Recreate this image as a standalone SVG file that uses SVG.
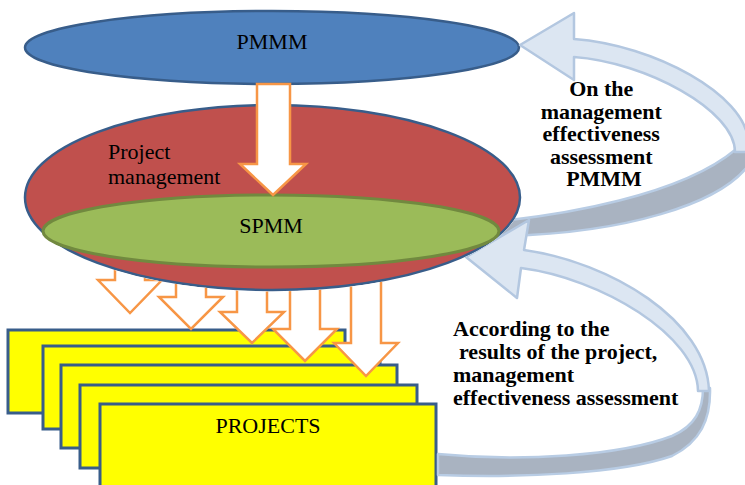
<svg xmlns="http://www.w3.org/2000/svg" width="745" height="485" viewBox="0 0 745 485">
<style>
.lbl{font-family:"Liberation Serif","Times New Roman",serif;font-size:22px;fill:#000}
.bold{font-family:"Liberation Serif","Times New Roman",serif;font-size:22px;font-weight:bold;fill:#000}
.proj{fill:#FFFF00;stroke:#385D8A;stroke-width:3}
.oarrow{fill:#FFFFFF;stroke:#F79646;stroke-width:2.5;stroke-linejoin:miter}
.front{fill:#DCE6F2;stroke:#B3C7E0;stroke-width:2.5;stroke-linejoin:round}
.back{fill:#A9B3C1;stroke:#B8CCE4;stroke-width:2.5;stroke-linejoin:round}
</style>
<defs>
<clipPath id="outsideRed">
<path clip-rule="evenodd" d="M-10,-10H760V500H-10Z M23.5,197.5a249,94 0 1,0 498,0a249,94 0 1,0 -498,0Z"/>
</clipPath>
</defs>
<rect width="745" height="485" fill="#FFFFFF"/>

<g id="projects">
<rect class="proj" x="8" y="330" width="337" height="83"/>
<rect class="proj" x="43" y="346" width="337" height="83"/>
<rect class="proj" x="61" y="365" width="336" height="83"/>
<rect class="proj" x="80" y="385" width="337" height="83"/>
<rect class="proj" x="100" y="404" width="336" height="86"/>
<text class="lbl" x="268" y="433" text-anchor="middle">PROJECTS</text>
</g>

<g id="project-management">
<ellipse cx="272.5" cy="197.5" rx="247.5" ry="92.5" fill="#C0504D" stroke="#385D8A" stroke-width="2.5"/>
<text class="lbl" x="108" y="159">Project</text>
<text class="lbl" x="108" y="184">management</text>
</g>

<g id="spmm">
<ellipse cx="271" cy="231" rx="228" ry="36" fill="#9BBB59" stroke="#71893F" stroke-width="3"/>
<text class="lbl" x="271" y="233" text-anchor="middle">SPMM</text>
</g>

<g id="pmmm">
<ellipse cx="272" cy="47.5" rx="247" ry="36.5" fill="#4F81BD" stroke="#385D8A" stroke-width="2.5"/>
<text class="lbl" x="272" y="49" text-anchor="middle">PMMM</text>
</g>

<g id="connectors">
<g clip-path="url(#outsideRed)">
<g id="feedback-pmmm">
<path class="back" d="M500,221 C560,215 680,196 735,150 L752,140 L752,160 C725,205 620,234 500,236 Z"/>
<path class="front" d="M574,13 L520,45 L574,80 L574,57 C645,62 735,110 735,152 L752,152 L748,140 C745,95 655,45 574,39 Z"/>
</g>
<g id="feedback-projects">
<path class="back" d="M438,454 C520,462 620,456 672,436 C695,426 703,410 703,388 L710,388 C711,420 700,442 672,456 C620,474 520,478 438,475 Z"/>
<path class="front" d="M529,220 L466,257 L517,298 L521,268 C600,278 697,335 698,391 L709,391 C707,320 610,262 524,250 Z"/>
</g>
<g id="spmm-to-projects">
<polygon class="oarrow" points="115,240 145,240 145,280 162,280 130,313 98,280 115,280"/>
<polygon class="oarrow" points="176,240 206,240 206,297 223,297 191,329 159,297 176,297"/>
<polygon class="oarrow" points="237,240 267,240 267,312 284,312 252,343 220,312 237,312"/>
<polygon class="oarrow" points="290,240 320,240 320,329 337,329 305,361 273,329 290,329"/>
<polygon class="oarrow" points="351,240 381,240 381,343 398,343 366,376 334,343 351,343"/>
</g>
</g>
<polygon id="pmmm-to-spmm" class="oarrow" points="257,84 290,84 290,164 306,164 273,195 240,164 257,164"/>
</g>

<g id="label-pmmm-feedback">
<text class="bold" text-anchor="middle">
<tspan x="604" y="96">On the</tspan>
<tspan x="604" y="118.5">management</tspan>
<tspan x="604" y="141">effectiveness</tspan>
<tspan x="604" y="163.5">assessment</tspan>
<tspan x="604" y="186">PMMM</tspan>
</text>
</g>

<g id="label-projects-feedback">
<text class="bold">
<tspan x="453" y="336">According to the</tspan>
<tspan x="459" y="359">results of the project,</tspan>
<tspan x="453" y="382">management</tspan>
<tspan x="453" y="405">effectiveness assessment</tspan>
</text>
</g>
</svg>
